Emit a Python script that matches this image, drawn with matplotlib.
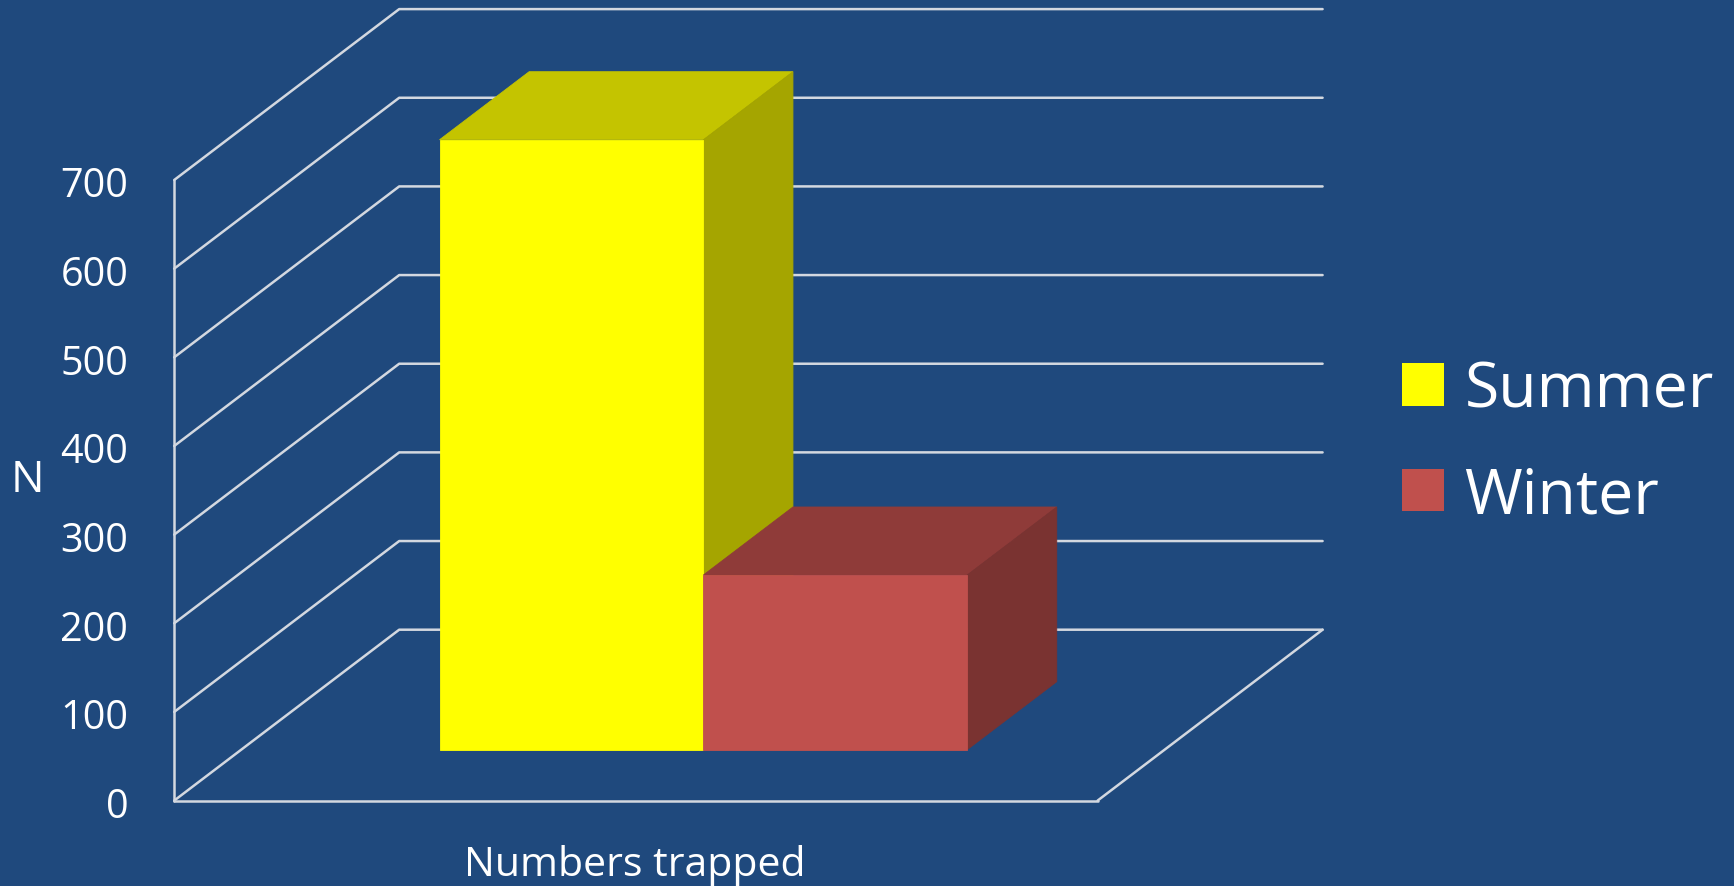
import matplotlib
matplotlib.use('Agg')
import matplotlib.pyplot as plt
from matplotlib.patches import Patch
import numpy as np

seasons = ['Summer', 'Winter']
trapped = [688, 197]
y_ticks = [0, 100, 200, 300, 400, 500, 600, 700]
x_label = 'Numbers trapped'
y_label = 'N'

bg = '#1F497D'
grid = '#D3D8E0'
front = ['#FFFF00', '#C0504D']
top = ['#C4C400', '#8F3B39']
side = ['#A5A500', '#7A3331']

plt.rcParams['font.family'] = ['Open Sans', 'DejaVu Sans']

W, H = 1734, 887
fig = plt.figure(figsize=(W / 100, H / 100), dpi=100, facecolor=bg)
ax = fig.add_axes((0, 0, 1, 1))
ax.set_axis_off()

# front wall corners in pixels, the rest is in data units
px_left, px_right = 174.2, 1097.6
px_zero, px_700 = 801.6, 181.0
per_x = px_right - px_left
per_y = (px_zero - px_700) / 700.0
ax.set_xlim(-px_left / per_x, (W - px_left) / per_x)
ax.set_ylim(-(H - px_zero) / per_y, px_zero / per_y)

# oblique projection of the floor depth, 0 front to 1 back
depth_x = 225.0 / per_x
depth_y = 170.9 / per_y


def proj(x, value, d):
    return x + d * depth_x, value + d * depth_y


# walls and grid
line = dict(color=grid, lw=1.8, solid_capstyle='round', zorder=1)
for v in y_ticks:
    xs, ys = proj(np.array([0, 0, 1]), v, np.array([0, 1, 1]))
    ax.plot(xs, ys, **line)
ax.plot([0, 0], [0, y_ticks[-1]], **line)
ax.plot([0, 1], [0, 0], **line)
xs, ys = proj(np.array([1, 1]), 0, np.array([0, 1]))
ax.plot(xs, ys, **line)

# bars, front face starts 0.298 into the floor and is 0.4 deep
bar_w = 0.2857
bar_x0 = 0.2874
d0, d1 = 0.298, 0.696
# the front face sits flat on the picture, so it starts on the depth line
base = d0 * depth_y
for i in range(len(trapped)):
    x0 = bar_x0 + i * bar_w
    x1 = x0 + bar_w
    h = trapped[i]
    dx = (d1 - d0) * depth_x
    dy = (d1 - d0) * depth_y
    f = [(x0, base), (x1, base), (x1, base + h), (x0, base + h)]
    t = [(x0, base + h), (x1, base + h), (x1 + dx, base + h + dy), (x0 + dx, base + h + dy)]
    s = [(x1, base), (x1 + dx, base + dy), (x1 + dx, base + h + dy), (x1, base + h)]
    z = 3 + i
    for pts, c in [(t, top[i]), (s, side[i]), (f, front[i])]:
        ax.fill(*zip(*pts), facecolor=c, edgecolor=c, lw=0.6, zorder=z)

for v in y_ticks:
    ax.text(-46 / per_x, v - 6 / per_y, str(v), color='white', fontsize=28.5,
            ha='right', va='center')
ax.text(-146.6 / per_x, 362, y_label, color='white', fontsize=32, ha='center', va='center')
ax.text(0.499, -64 / per_y, x_label, color='white', fontsize=29.5, ha='center', va='center')

handles = [Patch(facecolor=front[i], edgecolor='none', label=seasons[i]) for i in range(2)]
leg = ax.legend(handles=handles, loc='upper left', bbox_to_anchor=(1402 / W, 1 - 360 / H),
                bbox_transform=fig.transFigure, frameon=False, fontsize=45,
                labelcolor='white', borderpad=0, borderaxespad=0,
                handlelength=0.67, handleheight=0.67, handletextpad=0.33, labelspacing=0.69)

fig.savefig('out.png', dpi=100, facecolor=bg)
